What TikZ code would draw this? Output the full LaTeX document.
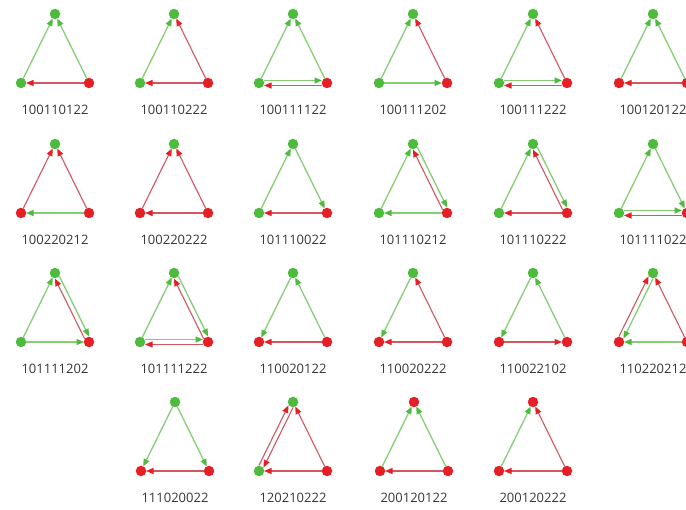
\documentclass[tikz,border=0pt]{standalone}
\usepackage{fontspec}
\setmainfont{Open Sans}
\usetikzlibrary{arrows.meta, calc}
\definecolor{dotgreen}{RGB}{78,186,62}
\definecolor{dotred}{RGB}{228,32,38}
\definecolor{linegreen}{RGB}{135,205,120}
\definecolor{linered}{RGB}{208,86,96}
\definecolor{labelgray}{RGB}{55,55,55}
\tikzset{
	gdot/.style={circle, fill=dotgreen, inner sep=0pt, minimum size=10.5pt},
	rdot/.style={circle, fill=dotred, inner sep=0pt, minimum size=10.5pt},
	gline/.style={-{Triangle[length=7.5pt,width=6pt,color=dotgreen]},
		draw=linegreen, line width=1.3pt, shorten <=5pt, shorten >=5pt},
	rline/.style={-{Triangle[length=7.5pt,width=6pt,color=dotred]},
		draw=linered, line width=1.1pt, shorten <=5pt, shorten >=5pt},
	motiflabel/.style={font=\fontsize{13}{15}\selectfont, text=labelgray}
}
\begin{document}
\begin{tikzpicture}[x=1pt, y=-1pt]
	
	\clip (0,0) rectangle (686,510);
	\fill[white] (0,0) rectangle (686,510);
	
	%% ---- Motifs: name / x / y / top / left / right / code / edges ----
	\foreach \m/\x/\y/\ctop/\cleft/\cright/\lab/\edges in {
		m1/55/14/g/g/r/100110122/{l/t/g/0pt, r/t/g/0pt, r/l/r/0pt},
		m2/174/14/g/g/r/100110222/{l/t/g/0pt, r/t/r/0pt, r/l/r/0pt},
		m3/293/14/g/g/r/100111122/{l/t/g/0pt, r/t/g/0pt, l/r/g/2.5pt, r/l/r/2.5pt},
		m4/413/14/g/g/r/100111202/{l/t/g/0pt, r/t/r/0pt, l/r/g/0pt},
		m5/533/14/g/g/r/100111222/{l/t/g/0pt, r/t/r/0pt, l/r/g/2.5pt, r/l/r/2.5pt},
		m6/653/14/g/r/r/100120122/{l/t/g/0pt, r/t/g/0pt, r/l/r/0pt},
		m7/55/144/g/r/r/100220212/{l/t/r/0pt, r/t/r/0pt, r/l/g/0pt},
		m8/174/144/g/r/r/100220222/{l/t/r/0pt, r/t/r/0pt, r/l/r/0pt},
		m9/293/144/g/g/r/101110022/{l/t/g/0pt, t/r/g/0pt, r/l/r/0pt},
		m10/413/144/g/g/r/101110212/{l/t/g/0pt, t/r/g/2.5pt, r/t/r/2.5pt, r/l/g/0pt},
		m11/533/144/g/g/r/101110222/{l/t/g/0pt, t/r/g/2.5pt, r/t/r/2.5pt, r/l/r/0pt},
		m12/653/144/g/g/r/101111022/{l/t/g/0pt, t/r/g/0pt, l/r/g/2.5pt, r/l/r/2.5pt},
		m13/55/273/g/g/r/101111202/{l/t/g/0pt, t/r/g/2.5pt, r/t/r/2.5pt, l/r/g/0pt},
		m14/174/273/g/g/r/101111222/{l/t/g/0pt, t/r/g/2.5pt, r/t/r/2.5pt, l/r/g/2.5pt, r/l/r/2.5pt},
		m15/293/273/g/r/r/110020122/{t/l/g/0pt, r/t/g/0pt, r/l/r/0pt},
		m16/413/273/g/r/r/110020222/{t/l/g/0pt, r/t/r/0pt, r/l/r/0pt},
		m17/533/273/g/r/r/110022102/{t/l/g/0pt, r/t/g/0pt, l/r/r/0pt},
		m18/653/273/g/r/r/110220212/{t/l/g/2.5pt, l/t/r/2.5pt, r/t/r/0pt, r/l/g/0pt},
		m19/175/402/g/r/r/111020022/{t/l/g/0pt, t/r/g/0pt, r/l/r/0pt},
		m20/293/402/g/g/r/120210222/{l/t/r/2.5pt, t/l/r/2.5pt, r/t/r/0pt, r/l/r/0pt},
		m21/414/402/r/r/r/200120122/{l/t/g/0pt, r/t/g/0pt, r/l/r/0pt},
		m22/533/402/r/r/r/200120222/{l/t/g/0pt, r/t/r/0pt, r/l/r/0pt}%
	}{
		\node[\ctop dot]   (\m t) at (\x,\y) {};
		\node[\cleft dot]  (\m l) at (\x-34,\y+69) {};
		\node[\cright dot] (\m r) at (\x+34,\y+69) {};
		\node[motiflabel]  (\m n) at (\x,\y+96) {\lab};
		%% ---- Edges: source / target / colour / offset ----
		\foreach \src/\tgt/\col/\off in \edges{
			\draw[\col line] ($(\m\src)!\off!90:(\m\tgt)$) -- ($(\m\tgt)!\off!-90:(\m\src)$);
		}
	}
	
\end{tikzpicture}
\end{document}
